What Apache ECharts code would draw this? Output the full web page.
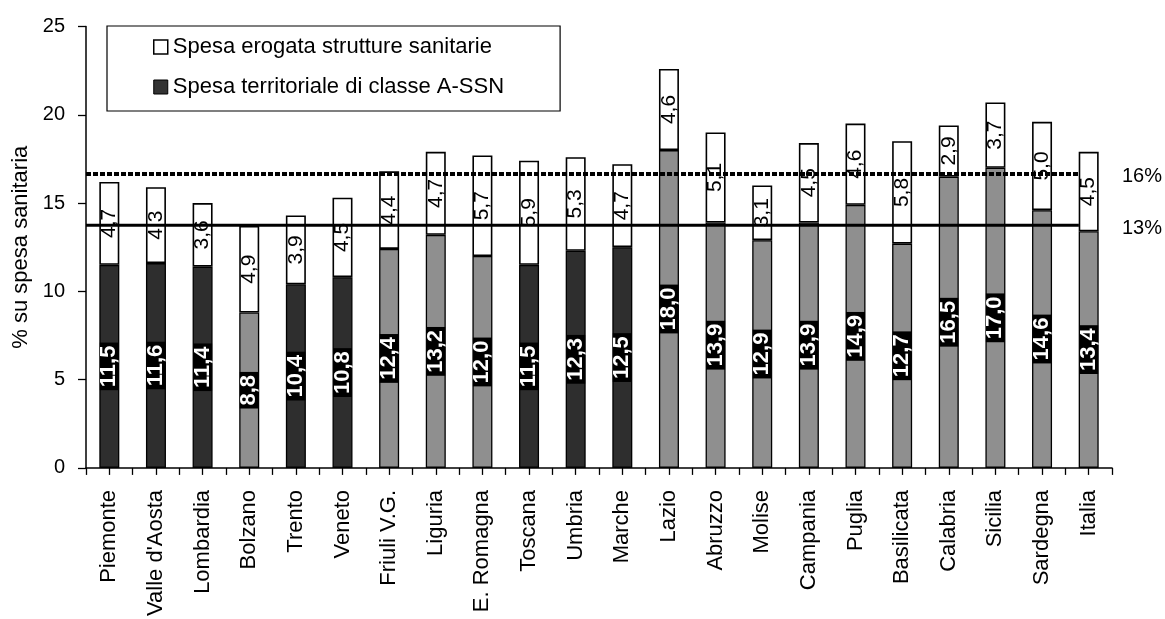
<!DOCTYPE html>
<html>
<head>
<meta charset="utf-8">
<script src="https://cdn.jsdelivr.net/npm/echarts@6/dist/echarts.min.js"></script>
<style>html,body{margin:0;padding:0;background:#fff;}#c{width:1165px;height:619px;}</style>
</head>
<body>
<div id="c"></div>
<script>
const categories = ["Piemonte","Valle d'Aosta","Lombardia","Bolzano","Trento","Veneto","Friuli V.G.","Liguria","E. Romagna","Toscana","Umbria","Marche","Lazio","Abruzzo","Molise","Campania","Puglia","Basilicata","Calabria","Sicilia","Sardegna","Italia"];
const spesaTerritoriale = [11.5,11.6,11.4,8.8,10.4,10.8,12.4,13.2,12.0,11.5,12.3,12.5,18.0,13.9,12.9,13.9,14.9,12.7,16.5,17.0,14.6,13.4];
const spesaStrutture = [4.7,4.3,3.6,4.9,3.9,4.5,4.4,4.7,5.7,5.9,5.3,4.7,4.6,5.1,3.1,4.5,4.6,5.8,2.9,3.7,5.0,4.5];
const seriesNames = ["Spesa erogata strutture sanitarie","Spesa territoriale di classe A-SSN"];
const refLineValues = [16.65, 13.75];
const refLineLabels = ["16%", "13%"];

// style groups (shade of the lower segment)
const darkShaded = ["Piemonte","Valle d'Aosta","Lombardia","Trento","Veneto","Toscana","Umbria","Marche"];

const FONT = "'Liberation Sans', Arial, sans-serif";
const fmt = v => v.toFixed(1).replace('.', ',');

const chart = echarts.init(document.getElementById('c'), null, {renderer: 'canvas'});

const lastIdx = categories.length - 1;
const refStyles = [
  {type: [5, 2], width: 4},
  {type: 'solid', width: 3}
];

const option = {
  animation: false,
  backgroundColor: '#fff',
  textStyle: {fontFamily: FONT},
  grid: {left: 86, right: 53, top: 26.5, bottom: 151},
  legend: {
    left: 107, top: 26,
    orient: 'vertical',
    data: [
      {name: seriesNames[0], icon: 'rect', itemStyle: {color: '#fff', borderColor: '#000', borderWidth: 1.5}},
      {name: seriesNames[1], icon: 'rect', itemStyle: {color: '#333', borderColor: '#000', borderWidth: 1}}
    ],
    itemWidth: 14, itemHeight: 14, itemGap: 16,
    padding: [9, 56, 12, 46],
    borderColor: '#000', borderWidth: 1.2,
    textStyle: {fontFamily: FONT, fontSize: 22, color: '#000', lineHeight: 24}
  },
  xAxis: [
    {
      type: 'category', data: categories, position: 'bottom',
      axisLine: {show: false}, axisTick: {show: false},
      axisLabel: {rotate: 90, interval: 0, margin: 22, fontFamily: FONT, fontSize: 22, color: '#000'}
    },
    {
      type: 'value', min: -0.5, max: lastIdx + 0.5, interval: 0.5, position: 'bottom',
      axisLine: {show: true, onZero: false, lineStyle: {color: '#000', width: 1.5}},
      axisTick: {show: true, length: 7, lineStyle: {color: '#000', width: 1.3}},
      axisLabel: {show: false}, splitLine: {show: false}
    }
  ],
  yAxis: {
    type: 'value', min: 0, max: 25, interval: 5,
    name: '% su spesa sanitaria', nameLocation: 'middle', nameGap: 47,
    nameTextStyle: {fontFamily: FONT, fontSize: 22, color: '#000'},
    axisLine: {show: true, onZero: false, lineStyle: {color: '#000', width: 1.5}},
    axisTick: {show: true, length: 8, lineStyle: {color: '#000', width: 1.3}},
    axisLabel: {fontFamily: FONT, fontSize: 20, color: '#000', margin: 21},
    splitLine: {show: false}
  },
  series: [
    {
      name: seriesNames[1], type: 'bar', stack: 's', barWidth: 20, xAxisIndex: 0,
      data: spesaTerritoriale.map((v, i) => ({
        value: v,
        itemStyle: {color: darkShaded.includes(categories[i]) ? '#2e2e2e' : '#8f8f8f', borderColor: '#000', borderWidth: 1.3}
      })),
      label: {
        show: true, position: 'inside', rotate: 90,
        formatter: p => fmt(p.value),
        color: '#fff', fontWeight: 'bold', fontSize: 22, fontFamily: FONT,
        lineHeight: 17, backgroundColor: '#000', padding: [1, 3]
      },
      z: 2
    },
    {
      name: seriesNames[0], type: 'bar', stack: 's', barWidth: 20, xAxisIndex: 0,
      data: spesaStrutture,
      itemStyle: {color: '#fff', borderColor: '#000', borderWidth: 1.6},
      label: {
        show: true, position: 'inside', rotate: 90,
        formatter: p => fmt(p.value),
        color: '#000', fontSize: 21, fontFamily: FONT
      },
      z: 2
    }
  ].concat(refLineValues.map((v, k) => ({
    name: refLineLabels[k], type: 'line', xAxisIndex: 1,
    data: [[-0.5, v], [lastIdx - 0.21, v]],
    symbol: 'none', silent: true, z: 5,
    lineStyle: {color: '#000', width: refStyles[k].width, type: refStyles[k].type},
    endLabel: {show: true, formatter: refLineLabels[k], offset: [35, 3], color: '#000', fontSize: 20, fontFamily: FONT}
  })))
};
chart.setOption(option);
</script>
</body>
</html>
